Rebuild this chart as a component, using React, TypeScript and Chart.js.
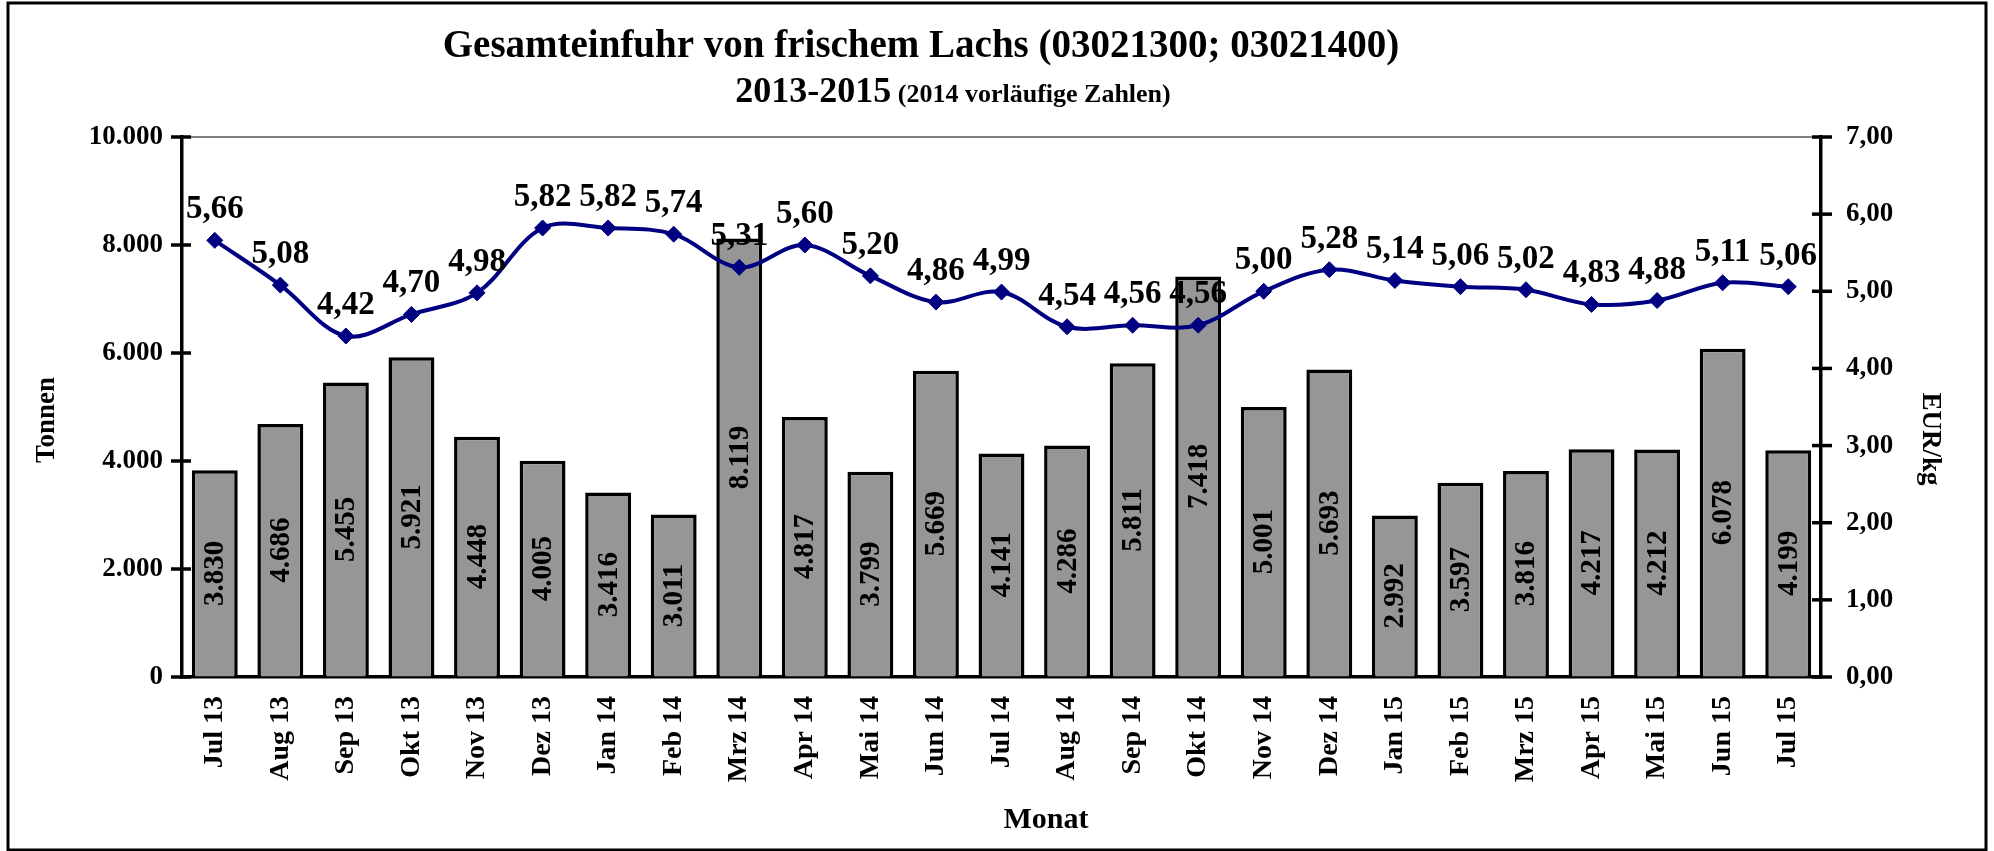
import React, { useEffect, useRef } from "react";
import { Chart, registerables } from "chart.js";

Chart.register(...registerables);

const months = [
  "Jul 13", "Aug 13", "Sep 13", "Okt 13", "Nov 13", "Dez 13",
  "Jan 14", "Feb 14", "Mrz 14", "Apr 14", "Mai 14", "Jun 14",
  "Jul 14", "Aug 14", "Sep 14", "Okt 14", "Nov 14", "Dez 14",
  "Jan 15", "Feb 15", "Mrz 15", "Apr 15", "Mai 15", "Jun 15", "Jul 15",
];
const tonnen = [
  3830, 4686, 5455, 5921, 4448, 4005, 3416, 3011, 8119, 4817, 3799, 5669,
  4141, 4286, 5811, 7418, 5001, 5693, 2992, 3597, 3816, 4217, 4212, 6078, 4199,
];
const preis = [
  5.66, 5.08, 4.42, 4.70, 4.98, 5.82, 5.82, 5.74, 5.31, 5.60, 5.20, 4.86,
  4.99, 4.54, 4.56, 4.56, 5.00, 5.28, 5.14, 5.06, 5.02, 4.83, 4.88, 5.11, 5.06,
];
const leftMax = 10000;
const leftStep = 2000;
const rightMax = 7;
const rightStep = 1;

const titleLine1 = "Gesamteinfuhr von frischem Lachs (03021300; 03021400)";
const titleLine2a = "2013-2015";
const titleLine2b = " (2014 vorläufige Zahlen)";
const leftTitle = "Tonnen";
const rightTitle = "EUR/kg";
const xTitle = "Monat";

const SERIF = "'Liberation Serif', 'Times New Roman', serif";

const fmtThousands = (v: number) =>
  String(Math.round(v)).replace(/\B(?=(\d{3})+(?!\d))/g, ".");
const fmtDec = (v: number) => v.toFixed(2).replace(".", ",");

const W = 1994;
const H = 851;
const PLOT_LEFT = 182;
const PLOT_RIGHT = 1821;
const PLOT_TOP = 137;
const PLOT_BOTTOM = 677;

const decorPlugin = {
  id: "decor",
  beforeDraw(chart: any) {
    const ctx = chart.ctx;
    ctx.save();
    ctx.fillStyle = "#ffffff";
    ctx.fillRect(0, 0, W, H);
    ctx.strokeStyle = "#000000";
    ctx.lineWidth = 3;
    ctx.strokeRect(8, 3, 1978, 847);
    ctx.restore();
  },
  afterDatasetsDraw(chart: any) {
    const ctx = chart.ctx;
    const area = chart.chartArea;
    ctx.save();
    // top border of plot area
    ctx.strokeStyle = "#808080";
    ctx.lineWidth = 2;
    ctx.beginPath();
    ctx.moveTo(area.left, area.top);
    ctx.lineTo(area.right, area.top);
    ctx.stroke();

    // crossing tick marks
    ctx.strokeStyle = "#000000";
    ctx.lineWidth = 3.5;
    const ys = chart.scales.y;
    ys.ticks.forEach((t: any) => {
      const py = ys.getPixelForValue(t.value);
      ctx.beginPath();
      ctx.moveTo(area.left - 11, py);
      ctx.lineTo(area.left + 9, py);
      ctx.stroke();
    });
    const y1 = chart.scales.y1;
    y1.ticks.forEach((t: any) => {
      const py = y1.getPixelForValue(t.value);
      ctx.beginPath();
      ctx.moveTo(area.right - 9, py);
      ctx.lineTo(area.right + 11, py);
      ctx.stroke();
    });

    // bar value labels
    const barMeta = chart.getDatasetMeta(1);
    ctx.fillStyle = "#000000";
    ctx.font = `bold 29px ${SERIF}`;
    ctx.textAlign = "center";
    ctx.textBaseline = "middle";
    barMeta.data.forEach((el: any, i: number) => {
      const cy = (el.y + el.base) / 2;
      ctx.save();
      ctx.translate(el.x, cy);
      ctx.rotate(-Math.PI / 2);
      ctx.fillText(fmtThousands(tonnen[i]), 0, 1);
      ctx.restore();
    });

    // line value labels
    const lineMeta = chart.getDatasetMeta(0);
    ctx.font = `bold 33px ${SERIF}`;
    ctx.textAlign = "center";
    ctx.textBaseline = "alphabetic";
    lineMeta.data.forEach((el: any, i: number) => {
      ctx.fillText(fmtDec(preis[i]), el.x, el.y - 22);
    });

    // titles
    ctx.font = `bold 39px ${SERIF}`;
    ctx.textAlign = "center";
    ctx.fillText(titleLine1, 921, 57);

    ctx.font = `bold 36px ${SERIF}`;
    const wA = ctx.measureText(titleLine2a).width;
    ctx.font = `bold 26px ${SERIF}`;
    const wB = ctx.measureText(titleLine2b).width;
    const start = 953 - (wA + wB) / 2;
    ctx.textAlign = "left";
    ctx.font = `bold 36px ${SERIF}`;
    ctx.fillText(titleLine2a, start, 102);
    ctx.font = `bold 26px ${SERIF}`;
    ctx.fillText(titleLine2b, start + wA, 102);

    // axis titles
    ctx.textAlign = "center";
    ctx.textBaseline = "middle";
    ctx.font = `bold 30px ${SERIF}`;
    ctx.fillText(xTitle, 1046, 820);

    ctx.font = `bold 27px ${SERIF}`;
    ctx.save();
    ctx.translate(47, 420);
    ctx.rotate(-Math.PI / 2);
    ctx.fillText(leftTitle, 0, 0);
    ctx.restore();

    ctx.save();
    ctx.translate(1930, 439);
    ctx.rotate(Math.PI / 2);
    ctx.fillText(rightTitle, 0, 0);
    ctx.restore();

    ctx.restore();
  },
};

export default function App() {
  const ref = useRef<HTMLCanvasElement | null>(null);

  useEffect(() => {
    document.body.style.margin = "0";
    if (!ref.current) return;
    const chart = new Chart(ref.current, {
      type: "bar",
      data: {
        labels: months,
        datasets: [
          {
            type: "line",
            label: "EUR/kg",
            data: preis,
            yAxisID: "y1",
            borderColor: "#000080",
            backgroundColor: "#000080",
            borderWidth: 4,
            tension: 0.35,
            pointStyle: "rectRot",
            pointRadius: 8,
            pointBackgroundColor: "#000080",
            pointBorderColor: "#000080",
            pointBorderWidth: 1,
            order: 0,
          } as any,
          {
            type: "bar",
            label: "Tonnen",
            data: tonnen,
            yAxisID: "y",
            backgroundColor: "#969696",
            borderColor: "#000000",
            borderWidth: 3.5,
            barPercentage: 0.7,
            categoryPercentage: 1.0,
            order: 1,
          } as any,
        ],
      },
      options: {
        responsive: false,
        animation: false,
        layout: { padding: { top: PLOT_TOP, left: 0, right: 0, bottom: 0 } },
        plugins: {
          legend: { display: false },
          title: { display: false },
          tooltip: { enabled: false },
        },
        scales: {
          x: {
            grid: { display: true, drawOnChartArea: false, drawTicks: false },
            border: { display: true, color: "#000000", width: 3.5 },
            ticks: {
              autoSkip: false,
              maxRotation: 90,
              minRotation: 90,
              padding: 19,
              color: "#000000",
              font: { family: SERIF, size: 28, weight: "bold" },
            },
            afterFit: (s: any) => {
              s.height = H - PLOT_BOTTOM;
            },
          },
          y: {
            position: "left",
            min: 0,
            max: leftMax,
            grid: { display: true, drawOnChartArea: false, drawTicks: false },
            border: { display: true, color: "#000000", width: 3.5 },
            ticks: {
              stepSize: leftStep,
              padding: 19,
              color: "#000000",
              font: { family: SERIF, size: 27, weight: "bold" },
              callback: (v: any) => fmtThousands(Number(v)),
            },
            afterFit: (s: any) => {
              s.width = PLOT_LEFT;
            },
          },
          y1: {
            position: "right",
            min: 0,
            max: rightMax,
            grid: { display: true, drawOnChartArea: false, drawTicks: false },
            border: { display: true, color: "#000000", width: 3.5 },
            ticks: {
              stepSize: rightStep,
              padding: 25,
              color: "#000000",
              font: { family: SERIF, size: 27, weight: "bold" },
              callback: (v: any) => fmtDec(Number(v)),
            },
            afterFit: (s: any) => {
              s.width = W - PLOT_RIGHT;
            },
          },
        },
      },
      plugins: [decorPlugin],
    });
    return () => chart.destroy();
  }, []);

  return (
    <div style={{ position: "absolute", left: 0, top: 0, width: W, height: H }}>
      <canvas ref={ref} width={W} height={H} style={{ width: W, height: H, display: "block" }} />
    </div>
  );
}
